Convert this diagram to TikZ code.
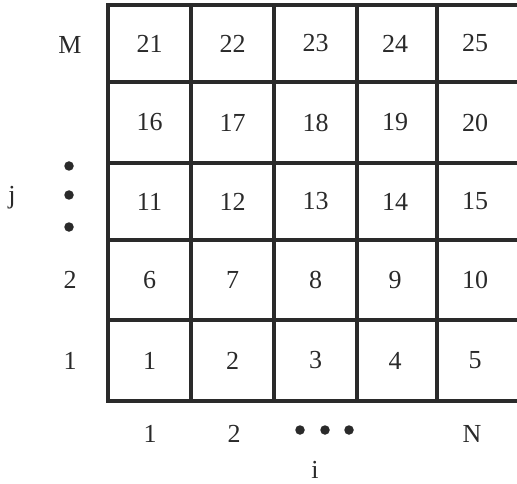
\documentclass[tikz,border=0pt]{standalone}
\usepackage{fontspec}
\setmainfont{Liberation Serif}
\definecolor{gridc}{HTML}{2A2A2A}
\begin{document}
\begin{tikzpicture}[x=1pt,y=-1pt,
  gridline/.style={draw=gridc,line width=3.2pt},
  lab/.style={font=\fontsize{26}{28}\selectfont,text=gridc,inner sep=0pt},
  dotmark/.style={circle,fill=gridc,inner sep=0pt,minimum size=9.5pt}]
\useasboundingbox (0,0) rectangle (517,484);
% grid
\def\xs{108,191,274,357,437,522}
\def\ys{5,82,163,240,320,401}
\foreach \x in \xs {\draw[gridline] (\x,3.4) -- (\x,402.6);}
\foreach \y in \ys {\draw[gridline] (106.4,\y) -- (523,\y);}
% cell numbers
\foreach \r/\yc in {0/360.5,1/280,2/201.5,3/122.5,4/43.5} {
  \foreach \c/\xc in {1/149.5,2/232.5,3/315.5,4/395,5/475} {
    \pgfmathtruncatemacro{\n}{5*\r+\c}
    \node[lab] (c\n) at (\xc,\yc) {\n};
  }
}
% row labels
\node[lab] (rM) at (70,45) {M};
\node[dotmark] (rd1) at (69,166) {};
\node[dotmark] (rd2) at (69,195) {};
\node[dotmark] (rd3) at (69,227) {};
\node[lab] (r2) at (70,280) {2};
\node[lab] (r1) at (70,361) {1};
\node[lab] (j) at (12,198) {j};
% column labels
\node[lab] (k1) at (150,434) {1};
\node[lab] (k2) at (234,434) {2};
\node[dotmark] (cd1) at (300,430) {};
\node[dotmark] (cd2) at (325,430) {};
\node[dotmark] (cd3) at (349,430) {};
\node[lab] (kN) at (472,434) {N};
\node[lab] (i) at (315,470) {i};
\end{tikzpicture}
\end{document}
